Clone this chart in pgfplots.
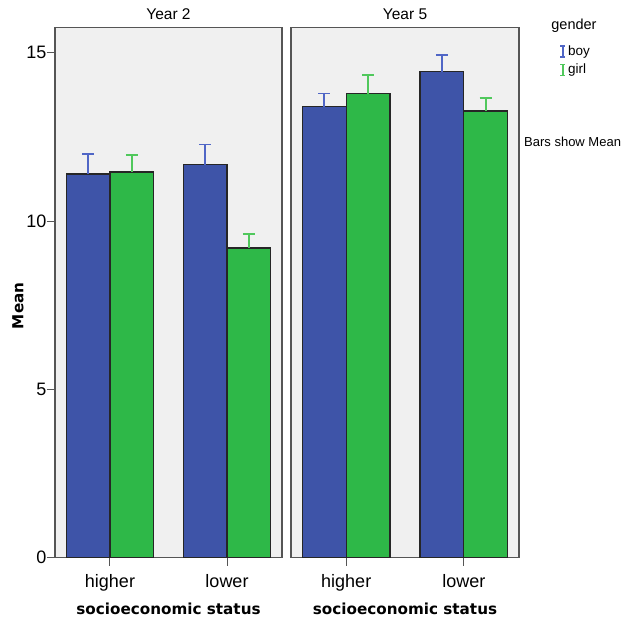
\documentclass[border=0pt]{standalone}
\usepackage{fontspec}
\setmainfont{Liberation Sans}
\newfontfamily\labfont{DejaVu Sans}
\usepackage{pgfplots}
\usepackage{pgfplotstable}
\pgfplotsset{compat=1.18}
\definecolor{boyc}{RGB}{62,84,168}
\definecolor{girlc}{RGB}{46,184,72}
\definecolor{boye}{RGB}{80,102,198}
\definecolor{girle}{RGB}{80,200,92}
\definecolor{panelbg}{RGB}{240,240,240}
\definecolor{framec}{RGB}{85,85,85}

\pgfplotstableread{
x boy boyerr girl girlerr
0 11.40 0.59 11.46 0.51
1 11.68 0.60 9.20 0.42
}\yeartwo
\pgfplotstableread{
x boy boyerr girl girlerr
0 13.40 0.39 13.79 0.55
1 14.44 0.49 13.27 0.40
}\yearfive

\pgfplotsset{
  panel/.style={
    scale only axis, height=530.4bp,
    ymin=0, ymax=15.76, xmin=-0.47, xmax=1.47,
    ybar=0pt, bar width=0.373,
    axis background/.style={fill=panelbg},
    axis line style={framec, line width=1.2bp},
    xtick={0,1}, xticklabels={higher,lower},
    xtick pos=bottom, ytick pos=left,
    tick align=outside, major tick length=8bp,
    minor tick num=0,
    tick style={framec, line width=1bp},
    /pgf/number format/assume math mode=true,
    ticklabel style={font=\fontsize{18bp}{20bp}\selectfont},
    xticklabel style={yshift=-5bp},
    yticklabel style={xshift=3bp},
    title style={font=\fontsize{15.5bp}{17bp}\selectfont, at={(axis description cs:0.5,1)}, anchor=base, yshift=2bp},
    xlabel={socioeconomic status},
    xlabel style={font=\labfont\bfseries\fontsize{15.2bp}{17bp}\selectfont, at={(axis description cs:0.5,0)}, anchor=base, yshift=-56.3bp},
  },
  boybar/.style={fill=boyc, draw=black!85, line width=1.4bp, bar shift=-0.1865,
    error bars/y dir=plus, error bars/y explicit,
    error bars/error bar style={boye, line width=1.8bp},
    error bars/error mark options={boye, line width=1.8bp, mark size=6bp, rotate=90}},
  girlbar/.style={fill=girlc, draw=black!85, line width=1.4bp, bar shift=0.1865,
    error bars/y dir=plus, error bars/y explicit,
    error bars/error bar style={girle, line width=1.8bp},
    error bars/error mark options={girle, line width=1.8bp, mark size=6bp, rotate=90}},
}

\begin{document}
\begin{tikzpicture}
\path[use as bounding box] (-55bp,-61.3bp) rectangle (570bp,557.7bp);
\begin{axis}[panel, width=227bp, at={(0,0)}, anchor=south west,
  title={Year 2},
  ytick={0,5,10,15},
  ylabel={Mean},
  ylabel style={font=\labfont\bfseries\fontsize{15.2bp}{17bp}\selectfont, at={(axis description cs:-0.163,0.475)}, anchor=center},
]
\addplot[boybar] table[x=x, y=boy, y error=boyerr] {\yeartwo};
\addplot[girlbar] table[x=x, y=girl, y error=girlerr] {\yeartwo};
\end{axis}
\begin{axis}[panel, width=228bp, at={(236bp,0)}, anchor=south west,
  title={Year 5},
  ytick=\empty,
  legend style={draw=none, fill=none, at={(axis description cs:1.178,0.937)}, anchor=west,
    font=\fontsize{13.5bp}{15bp}\selectfont, row sep=3bp, inner sep=0pt},
  legend cell align=left,
]
\addlegendimage{legend image code/.code={\draw[boye, line width=1.3bp] (0bp,-5.5bp)--(0bp,5.5bp) (-2.5bp,-5.5bp)--(2.5bp,-5.5bp) (-2.5bp,5.5bp)--(2.5bp,5.5bp);}}
\addlegendimage{legend image code/.code={\draw[girle, line width=1.3bp] (0bp,-5.5bp)--(0bp,5.5bp) (-2.5bp,-5.5bp)--(2.5bp,-5.5bp) (-2.5bp,5.5bp)--(2.5bp,5.5bp);}}
\addplot[boybar] table[x=x, y=boy, y error=boyerr] {\yearfive};
\addplot[girlbar] table[x=x, y=girl, y error=girlerr] {\yearfive};
\legend{boy,girl}
\end{axis}
\node[anchor=base, inner sep=0pt, font=\fontsize{14.5bp}{16bp}\selectfont] at (519bp,528bp) {gender};
\node[anchor=base west, inner sep=0pt, font=\fontsize{13bp}{15bp}\selectfont] at (469bp,411.5bp) {Bars show Mean};
\end{tikzpicture}
\end{document}
